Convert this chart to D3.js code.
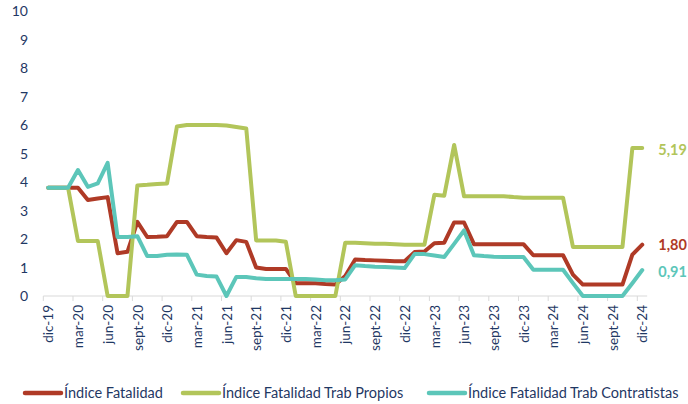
<!DOCTYPE html>
<html><head><meta charset="utf-8">
<script src="https://cdn.jsdelivr.net/npm/d3@7"></script>
<style>
html,body{margin:0;padding:0;background:#fff;}
svg{display:block;font-family:Lato,"Open Sans",sans-serif;}
</style></head>
<body><svg id="c" width="688" height="404"></svg>
<script>
const categories = ["dic-19","ene-20","feb-20","mar-20","abr-20","may-20","jun-20","jul-20","ago-20","sept-20","oct-20","nov-20",
"dic-20","ene-21","feb-21","mar-21","abr-21","may-21","jun-21","jul-21","ago-21","sept-21","oct-21","nov-21",
"dic-21","ene-22","feb-22","mar-22","abr-22","may-22","jun-22","jul-22","ago-22","sept-22","oct-22","nov-22",
"dic-22","ene-23","feb-23","mar-23","abr-23","may-23","jun-23","jul-23","ago-23","sept-23","oct-23","nov-23",
"dic-23","ene-24","feb-24","mar-24","abr-24","may-24","jun-24","jul-24","ago-24","sept-24","oct-24","nov-24","dic-24"];

const indiceFatalidad = [3.8,3.8,3.8,3.8,3.37,3.42,3.47,1.5,1.55,2.6,2.07,2.08,
2.1,2.6,2.6,2.1,2.07,2.05,1.5,1.96,1.9,1.0,0.95,0.95,
0.95,0.45,0.45,0.45,0.42,0.4,0.7,1.28,1.26,1.25,1.24,1.22,
1.22,1.54,1.56,1.85,1.87,2.58,2.58,1.82,1.82,1.82,1.82,1.82,
1.82,1.43,1.43,1.43,1.43,0.75,0.4,0.4,0.4,0.4,0.4,1.45,1.80];

const trabPropios = [3.8,3.8,3.8,1.93,1.93,1.93,0,0,0,3.88,3.9,3.93,
3.95,5.95,6.0,6.0,6.0,6.0,5.98,5.93,5.88,1.95,1.95,1.95,
1.9,0,0,0,0,0,1.87,1.87,1.85,1.83,1.83,1.82,
1.8,1.8,1.8,3.55,3.52,5.3,3.5,3.5,3.5,3.5,3.5,3.47,
3.45,3.45,3.45,3.45,3.45,1.72,1.72,1.72,1.72,1.72,1.72,5.19,5.19];

const trabContratistas = [3.8,3.8,3.8,4.42,3.83,3.95,4.67,2.07,2.07,2.1,1.4,1.4,
1.45,1.46,1.45,0.75,0.7,0.68,0,0.67,0.67,0.62,0.6,0.6,
0.6,0.6,0.6,0.58,0.55,0.55,0.58,1.08,1.05,1.03,1.02,1.0,
0.98,1.47,1.47,1.42,1.37,1.83,2.3,1.43,1.4,1.38,1.37,1.37,
1.37,0.92,0.92,0.92,0.92,0.45,0,0,0,0,0,0.45,0.91];

const seriesNames = ["Índice Fatalidad","Índice Fatalidad Trab Propios","Índice Fatalidad Trab Contratistas"];
const endLabels = ["1,80","5,19","0,91"];
const yTicks = [0,1,2,3,4,5,6,7,8,9,10];

const colors = ["#AF3A26","#B2C55A","#5CC6B9"];
const navy = "#1F3864";
const seriesData = [indiceFatalidad, trabPropios, trabContratistas];

const svg = d3.select("#c");
const x = d3.scaleBand().domain(categories).range([43.3, 647.2]).paddingInner(0).paddingOuter(0);
const y = d3.scaleLinear().domain([0,10]).range([296, 11]);
const cx = c => x(c) + x.bandwidth()/2;

// y axis labels
svg.append("g").selectAll("text").data(yTicks).join("text")
  .attr("x", 28).attr("y", d => y(d)).attr("dy","0.36em")
  .attr("text-anchor","end").attr("fill", navy).attr("font-size", 14)
  .text(d => d);

// x axis
const xg = svg.append("g");
xg.append("line").attr("x1", x.range()[0]).attr("x2", x.range()[1])
  .attr("y1", y(0)).attr("y2", y(0)).attr("stroke","#d9d9d9").attr("stroke-width",1);
const labelCats = categories.filter((c,i) => i % 3 === 0);
xg.selectAll("line.tick").data(labelCats).join("line").attr("class","tick")
  .attr("x1", d => x(d)).attr("x2", d => x(d))
  .attr("y1", y(0)).attr("y2", y(0)+5).attr("stroke","#d9d9d9");
xg.selectAll("text").data(labelCats).join("text")
  .attr("transform", d => `translate(${cx(d)+0.5},${y(0)+9}) rotate(-90)`)
  .attr("text-anchor","end").attr("dy","0.35em")
  .attr("fill", navy).attr("font-size", 13.5).text(d => d);

// lines
const line = d3.line().x((d,i) => cx(categories[i])).y(d => y(d));
[0,1,2].forEach(k => {
  svg.append("path").datum(seriesData[k]).attr("d", line)
    .attr("fill","none").attr("stroke", colors[k]).attr("stroke-width", 4)
    .attr("stroke-linejoin","round").attr("stroke-linecap","round");
});

// end labels
const lastCat = categories[categories.length-1];
const endOffsets = [0, 2, 2];
[0,1,2].forEach(k => {
  const v = seriesData[k][seriesData[k].length-1];
  svg.append("text").attr("x", cx(lastCat)+16).attr("y", y(v) + endOffsets[k])
    .attr("dy","0.35em").attr("fill", colors[k]).attr("font-weight","bold")
    .attr("font-size", 14.5).text(endLabels[k]);
});

// legend
const legX = [25, 183, 429];
const lg = svg.append("g");
seriesNames.forEach((n,k) => {
  lg.append("line").attr("x1", legX[k]).attr("x2", legX[k]+36).attr("y1", 393).attr("y2", 393)
    .attr("stroke", colors[k]).attr("stroke-width", 4.5).attr("stroke-linecap","round");
  lg.append("text").attr("x", legX[k]+39).attr("y", 393).attr("dy","0.36em")
    .attr("fill", navy).attr("font-size", 14.5).text(n);
});
</script></body></html>
